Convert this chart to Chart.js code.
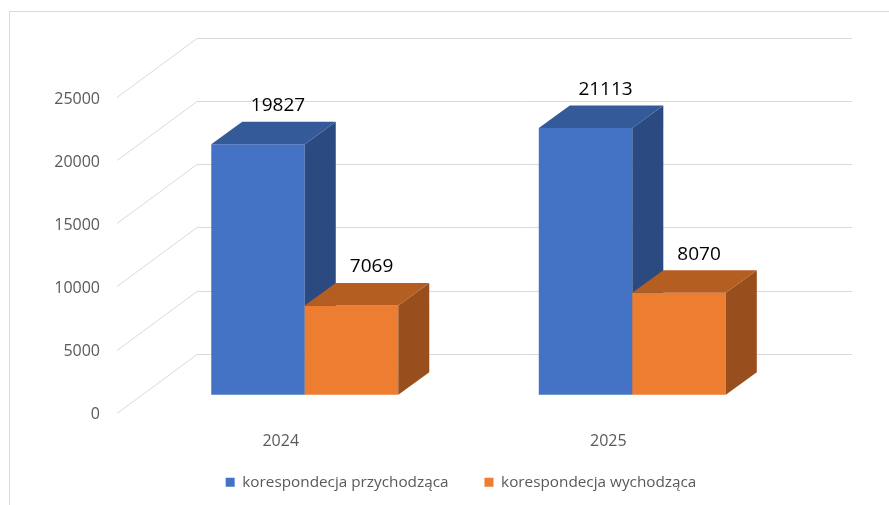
<!DOCTYPE html>
<html>
<head>
<meta charset="utf-8">
<script src="https://cdn.jsdelivr.net/npm/chart.js@4.4.1/dist/chart.umd.min.js"></script>
<style>
  body { margin: 0; background: #fff; }
  #wrap { width: 889px; height: 505px; }
</style>
</head>
<body>
<div id="wrap"><canvas id="myChart"></canvas></div>
<script>
const years = ["2024", "2025"];
const incoming = [19827, 21113];
const outgoing = [7069, 8070];
const seriesNames = ["korespondecja przychodząca", "korespondecja wychodząca"];

// fake 3d: how far back the wall is, where the bars sit, how deep they are
const wallDX = 80, wallDY = -59;
const barShiftX = 24, barShiftY = -18;
const barDX = 31, barDY = -22.5;

const faceColors = [
  { front: "#4472C4", top: "#345A9A", side: "#2B4A80" },
  { front: "#ED7D31", top: "#B55E22", side: "#984F1D" },
];

const ctx = document.getElementById("myChart").getContext("2d");

const fake3d = {
  id: "fake3d",
  beforeDraw(chart) {
    const c = chart.ctx;
    c.save();
    c.strokeStyle = "#D9D9D9";
    c.lineWidth = 1;
    c.strokeRect(9.5, 11.5, chart.width, chart.height);
    c.restore();
  },
  beforeDatasetsDraw(chart) {
    const c = chart.ctx;
    const { x, y } = chart.scales;
    const left = x.getPixelForValue(Number(years[0]) - 0.5);
    const right = x.getPixelForValue(Number(years[years.length - 1]) + 0.5);

    // gridlines: side wall diagonal + back wall
    c.save();
    c.strokeStyle = "#D9D9D9";
    c.lineWidth = 1;
    y.ticks.forEach((t) => {
      const py = Math.round(y.getPixelForValue(t.value)) + 0.5;
      c.beginPath();
      c.moveTo(left, py);
      c.lineTo(left + wallDX, py + wallDY);
      c.lineTo(right + wallDX, py + wallDY);
      c.stroke();
    });
    c.restore();

    // bars, category by category so the later box covers the side of the earlier one
    const metas = chart.getSortedVisibleDatasetMetas().sort((a, b) => a.index - b.index);
    c.save();
    c.translate(barShiftX, barShiftY);
    years.forEach((yr, i) => {
      metas.forEach((meta) => {
        const bar = meta.data[i];
        const col = faceColors[meta.index];
        const l = bar.x - bar.width / 2;
        const r = bar.x + bar.width / 2;
        const t = bar.y;
        const b = bar.base;
        bar.draw(c);
        c.fillStyle = col.side;
        c.beginPath();
        c.moveTo(r, t);
        c.lineTo(r + barDX, t + barDY);
        c.lineTo(r + barDX, b + barDY);
        c.lineTo(r, b);
        c.closePath();
        c.fill();
        c.fillStyle = col.top;
        c.beginPath();
        c.moveTo(l, t);
        c.lineTo(l + barDX, t + barDY);
        c.lineTo(r + barDX, t + barDY);
        c.lineTo(r, t);
        c.closePath();
        c.fill();
      });
    });
    c.restore();
    return false;
  },
  afterDraw(chart) {
    const c = chart.ctx;
    c.save();
    c.fillStyle = "#000";
    c.font = "19px 'Open Sans'";
    c.textAlign = "center";
    c.textBaseline = "middle";
    chart.data.datasets.forEach((ds, di) => {
      chart.getDatasetMeta(di).data.forEach((bar, i) => {
        const px = bar.x + barShiftX + 20;
        const py = bar.y + barShiftY + barDY - 16;
        c.fillText(String(ds.data[i].y), px, py);
      });
    });
    c.restore();
  },
};

const myChart = new Chart(ctx, {
  type: "bar",
  data: {
    datasets: [
      {
        label: seriesNames[0],
        data: years.map((yr, i) => ({ x: Number(yr), y: incoming[i] })),
        backgroundColor: faceColors[0].front,
      },
      {
        label: seriesNames[1],
        data: years.map((yr, i) => ({ x: Number(yr), y: outgoing[i] })),
        backgroundColor: faceColors[1].front,
      },
    ],
  },
  options: {
    responsive: true,
    maintainAspectRatio: false,
    animation: false,
    layout: { padding: { left: 33, right: 0, top: 97, bottom: 5 } },
    datasets: { bar: { categoryPercentage: 0.571, barPercentage: 1, borderWidth: 0 } },
    plugins: {
      legend: {
        position: "bottom",
        labels: {
          boxWidth: 9,
          boxHeight: 9,
          padding: 36,
          color: "#595959",
          font: { family: "Open Sans", size: 15.3 },
        },
      },
      tooltip: { enabled: false },
    },
    scales: {
      x: {
        type: "linear",
        offset: false,
        min: 2023.5,
        max: 2025.857,
        grid: { display: false, drawTicks: false },
        border: { display: false },
        afterBuildTicks: (s) => {
          s.ticks = years.map((v) => ({ value: Number(v) }));
        },
        afterFit: (s) => {
          s.height = 26;
        },
        ticks: {
          // mirror only so the labels are not clipped to the short axis box
          mirror: true,
          padding: -38.6,
          color: "#595959",
          font: { family: "Open Sans", size: 16 },
          callback: (v) => String(v),
        },
      },
      y: {
        min: 0,
        max: 25000,
        grid: { display: false, drawTicks: false },
        border: { display: false },
        afterFit: (s) => {
          s.width = 84;
        },
        ticks: {
          stepSize: 5000,
          padding: 17,
          labelOffset: 2,
          color: "#595959",
          font: { family: "Open Sans", size: 16 },
          callback: (v) => String(v),
        },
      },
    },
  },
  plugins: [fake3d],
});
</script>
</body>
</html>
